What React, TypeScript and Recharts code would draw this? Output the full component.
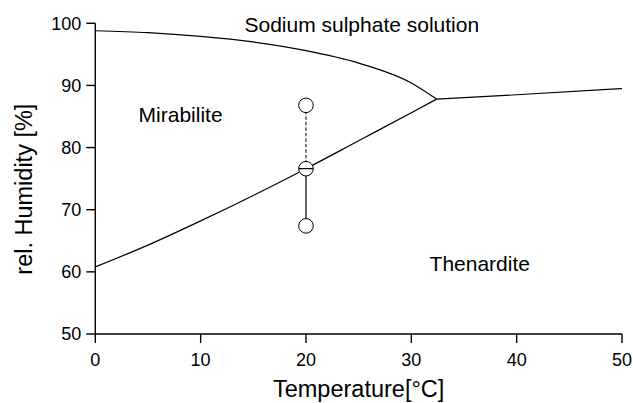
import React from "react";
import {
  ComposedChart,
  Line,
  Scatter,
  XAxis,
  YAxis,
  ReferenceDot,
} from "recharts";

// phase boundaries of the Na2SO4 - H2O system
const boundaryTemps = [0, 5, 10, 15, 20, 25, 30, 32.4];
const solutionBoundary = [98.8, 98.5, 97.9, 97.0, 95.6, 93.6, 90.4, 87.8];
const mirabiliteBoundary = [60.8, 64.3, 68.2, 72.3, 76.6, 81.1, 85.6, 87.8];
const thenarditeTemps = [32.4, 40, 50];
const thenarditeBoundary = [87.8, 88.5, 89.5];

// measured states at 20 °C: above, on and below the boundary
const sampleTemp = 20;
const sampleHumidity = [86.8, 76.6, 67.4];

const xTicks = [0, 10, 20, 30, 40, 50];
const yTicks = [50, 60, 70, 80, 90, 100];

const toPoints = (ts: number[], hs: number[]) => ts.map((t, i) => ({ t, h: hs[i] }));

const upperCurve = toPoints(boundaryTemps, solutionBoundary);
const lowerCurve = toPoints(boundaryTemps, mirabiliteBoundary);
const rightCurve = toPoints(thenarditeTemps, thenarditeBoundary);

const dashedPath = [sampleHumidity[0], sampleHumidity[1]].map((h) => ({ t: sampleTemp, h }));
const solidPath = [sampleHumidity[1], sampleHumidity[2]].map((h) => ({ t: sampleTemp, h }));
const openSamples = [sampleHumidity[0], sampleHumidity[2]].map((h) => ({ t: sampleTemp, h }));
const boundarySample = [{ t: sampleTemp, h: sampleHumidity[1] }];

const FONT = "'Liberation Sans', Arial, Helvetica, sans-serif";
const R = 7.3;

const OpenCircle = (props: any) => {
  const { cx, cy } = props;
  return <circle cx={cx} cy={cy} r={R} fill="#fff" stroke="#000" strokeWidth={1} />;
};

const SplitCircle = (props: any) => {
  const { cx, cy } = props;
  return (
    <g>
      <circle cx={cx} cy={cy} r={R} fill="#fff" stroke="#000" strokeWidth={1} />
      <line x1={cx - R} y1={cy} x2={cx + R} y2={cy} stroke="#000" strokeWidth={1.2} />
    </g>
  );
};

const regionLabel = (value: string) => ({
  value,
  position: "center" as const,
  fontSize: 21,
  fill: "#000",
});

export default function App() {
  return (
    <div style={{ position: "absolute", left: 0, top: 0, fontFamily: FONT, background: "#fff" }}>
      <ComposedChart
        width={633}
        height={403}
        margin={{ top: 23.3, right: 11, bottom: 0, left: 0 }}
      >
        <XAxis
          type="number"
          dataKey="t"
          domain={[0, 50]}
          ticks={xTicks}
          allowDataOverflow
          height={69}
          stroke="#000"
          strokeWidth={1.4}
          tickSize={9}
          tickMargin={10}
          tick={{ fontSize: 18, fill: "#000" }}
          label={{ value: "Temperature[°C]", position: "insideBottom", offset: 6.5, fontSize: 23.5, fill: "#000" }}
        />
        <YAxis
          type="number"
          dataKey="h"
          domain={[50, 100]}
          ticks={yTicks}
          allowDataOverflow
          width={95.3}
          stroke="#000"
          strokeWidth={1.4}
          tickSize={9}
          tickMargin={5}
          tick={{ fontSize: 18, fill: "#000" }}
          label={{
            value: "rel. Humidity [%]",
            angle: -90,
            position: "insideLeft",
            offset: 23.3,
            dy: 10.5,
            fontSize: 23.5,
            fill: "#000",
            style: { textAnchor: "middle" },
          }}
        />
        <Line data={upperCurve} dataKey="h" type="monotone" stroke="#000" strokeWidth={1.2} dot={false} activeDot={false} isAnimationActive={false} />
        <Line data={lowerCurve} dataKey="h" type="monotone" stroke="#000" strokeWidth={1.2} dot={false} activeDot={false} isAnimationActive={false} />
        <Line data={rightCurve} dataKey="h" type="monotone" stroke="#000" strokeWidth={1.2} dot={false} activeDot={false} isAnimationActive={false} />
        <Line data={dashedPath} dataKey="h" type="linear" stroke="#000" strokeWidth={1} strokeDasharray="3.5 2" dot={false} activeDot={false} isAnimationActive={false} />
        <Line data={solidPath} dataKey="h" type="linear" stroke="#000" strokeWidth={1.2} dot={false} activeDot={false} isAnimationActive={false} />
        <Scatter data={openSamples} shape={OpenCircle} isAnimationActive={false} />
        <Scatter data={boundarySample} shape={SplitCircle} isAnimationActive={false} />
        <ReferenceDot x={25.3} y={99.85} r={1} fill="none" stroke="none" label={regionLabel("Sodium sulphate solution")} />
        <ReferenceDot x={8.1} y={85.3} r={1} fill="none" stroke="none" label={regionLabel("Mirabilite")} />
        <ReferenceDot x={36.5} y={61.35} r={1} fill="none" stroke="none" label={regionLabel("Thenardite")} />
      </ComposedChart>
    </div>
  );
}
